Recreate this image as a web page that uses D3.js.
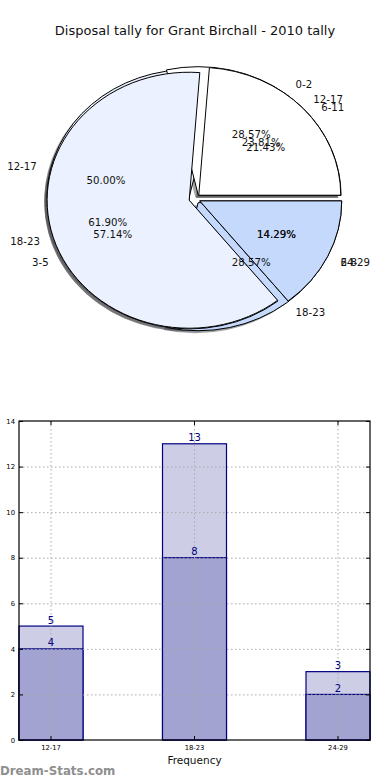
<!DOCTYPE html>
<html>
<head>
<meta charset="utf-8">
<script src="https://cdn.jsdelivr.net/npm/d3@7"></script>
<style>
  body { margin: 0; background: #fff; }
  svg { display: block; font-family: "DejaVu Sans", sans-serif; }
</style>
</head>
<body>
<svg id="chart" width="390" height="780"></svg>
<script>
// pie layers, drawn bottom to top
const pieLabelsA = ["6-11", "12-17", "18-23"];
const pieValuesA = [3, 7, 4];
const pieLabelsB = ["0-2", "3-5", "6-8"];
const pieValuesB = [4, 8, 2];
const pieLabelsC = ["12-17", "18-23", "24-29"];
const pieValuesC = [5, 13, 3];
const pieColors = ["#ffffff", "#ebf1fe", "#c5d9fd"];

// bar chart
const categories = ["12-17", "18-23", "24-29"];
const totals = [5, 13, 3];
const overlay = [4, 8, 2];
const yTicks = [0, 2, 4, 6, 8, 10, 12, 14];

const svg = d3.select("#chart");

svg.append("text")
    .attr("x", 195).attr("y", 30)
    .attr("text-anchor", "middle")
    .attr("dominant-baseline", "central")
    .attr("font-size", 13)
    .attr("fill", "#111")
    .text("Disposal tally for Grant Birchall - 2010 tally");

// ---- pie ----
const cx = 194.6, cy = 198.7, rx = 142, ry = 128;
const explode = 0.04;
const px = d3.scaleLinear().domain([-1, 1]).range([cx - rx, cx + rx]);
const py = d3.scaleLinear().domain([-1, 1]).range([cy + ry, cy - ry]);

const pieGen = d3.pie().sort(null).startAngle(0).endAngle(2 * Math.PI);
// matplotlib angles run counter-clockwise from east; d3 arcs clockwise from north
const arc = d3.arc().innerRadius(0).outerRadius(1)
    .startAngle(d => Math.PI / 2 - d.endAngle)
    .endAngle(d => Math.PI / 2 - d.startAngle);

const layers = [
    { labels: pieLabelsA, values: pieValuesA },
    { labels: pieLabelsB, values: pieValuesB },
    { labels: pieLabelsC, values: pieValuesC }
];

const pieG = svg.append("g")
    .attr("transform", `translate(${cx},${cy}) scale(${rx},${ry})`);
const shadowG = pieG.append("g");
const wedgeG = pieG.append("g");

layers.forEach(layer => {
    const arcs = pieGen(layer.values);
    arcs.forEach((d, i) => {
        const m = (d.startAngle + d.endAngle) / 2;
        const ox = explode * Math.cos(m), oy = -explode * Math.sin(m);
        const c = d3.rgb(pieColors[i]);
        shadowG.append("path")
            .attr("d", arc(d))
            .attr("transform", `translate(${ox - 0.02},${oy + 0.02})`)
            .attr("fill", `rgb(${c.r * 0.3},${c.g * 0.3},${c.b * 0.3})`)
            .attr("fill-opacity", 0.5);
        wedgeG.append("path")
            .attr("d", arc(d))
            .attr("transform", `translate(${ox},${oy})`)
            .attr("fill", pieColors[i])
            .attr("stroke", "#000")
            .attr("stroke-width", 1)
            .attr("vector-effect", "non-scaling-stroke");
    });
});

const textG = svg.append("g").attr("font-size", 10.2).attr("fill", "#111");
layers.forEach(layer => {
    const total = d3.sum(layer.values);
    pieGen(layer.values).forEach((d, i) => {
        const m = (d.startAngle + d.endAngle) / 2;
        const c = Math.cos(m), s = Math.sin(m);
        textG.append("text")
            .attr("x", px((explode + 1.1) * c))
            .attr("y", py((explode + 1.1) * s))
            .attr("text-anchor", c > 0 ? "start" : "end")
            .attr("dominant-baseline", "central")
            .text(layer.labels[i]);
        textG.append("text")
            .attr("x", px((explode + 0.6) * c))
            .attr("y", py((explode + 0.6) * s))
            .attr("text-anchor", "middle")
            .attr("dominant-baseline", "central")
            .text((layer.values[i] / total * 100).toFixed(2) + "%");
    });
});

// ---- bars ----
const plotLeft = 19, plotRight = 370, plotTop = 421, plotBottom = 740;
const x = d3.scaleBand().domain(categories).range([plotLeft, plotRight])
    .paddingInner(0.554).paddingOuter(0);
const y = d3.scaleLinear().domain([0, 14]).range([plotBottom, plotTop]);

const barG = svg.append("g");
barG.selectAll(".total").data(categories).enter().append("rect")
    .attr("x", d => x(d))
    .attr("y", (d, i) => y(totals[i]))
    .attr("width", x.bandwidth())
    .attr("height", (d, i) => y(0) - y(totals[i]))
    .attr("fill", "#cdcde6")
    .attr("stroke", "#000080")
    .attr("stroke-width", 1.2);
barG.selectAll(".over").data(categories).enter().append("rect")
    .attr("x", d => x(d))
    .attr("y", (d, i) => y(overlay[i]))
    .attr("width", x.bandwidth())
    .attr("height", (d, i) => y(0) - y(overlay[i]))
    .attr("fill", "#a3a3d1")
    .attr("stroke", "#000080")
    .attr("stroke-width", 1.2);

// dotted grid over bars
const gridG = svg.append("g")
    .attr("stroke", "#aaa").attr("stroke-width", 1).attr("stroke-dasharray", "1.5,2.5");
gridG.selectAll(".gy").data(yTicks.slice(1, -1)).enter().append("line")
    .attr("x1", plotLeft).attr("x2", plotRight)
    .attr("y1", d => y(d) + 0.5).attr("y2", d => y(d) + 0.5);
gridG.selectAll(".gx").data(categories).enter().append("line")
    .attr("x1", d => x(d) + x.bandwidth() / 2).attr("x2", d => x(d) + x.bandwidth() / 2)
    .attr("y1", plotTop).attr("y2", plotBottom);

const valG = svg.append("g")
    .attr("font-size", 10).attr("fill", "#000080").attr("text-anchor", "middle");
[totals, overlay].forEach(series => {
    valG.selectAll(null).data(categories).enter().append("text")
        .attr("x", d => x(d) + x.bandwidth() / 2)
        .attr("y", (d, i) => y(series[i]) - 2.5)
        .text((d, i) => series[i]);
});

// axes with inward ticks
svg.append("g").attr("transform", `translate(${plotLeft},0)`)
    .call(d3.axisLeft(y).tickValues(yTicks).tickSize(-4).tickPadding(4));
svg.append("g").attr("transform", `translate(0,${plotBottom})`)
    .call(d3.axisBottom(x).tickSize(-4).tickPadding(5));
svg.append("g").attr("transform", `translate(${plotRight},0)`)
    .call(d3.axisRight(y).tickValues(yTicks).tickSize(-4).tickFormat(""));
svg.append("g").attr("transform", `translate(0,${plotTop})`)
    .call(d3.axisTop(x).tickSize(-4).tickFormat(""));
svg.selectAll(".domain").remove();
svg.selectAll(".tick text")
    .attr("font-family", "DejaVu Sans").attr("font-size", 6.8).attr("fill", "#000");

svg.append("rect")
    .attr("x", plotLeft).attr("y", plotTop)
    .attr("width", plotRight - plotLeft).attr("height", plotBottom - plotTop)
    .attr("fill", "none").attr("stroke", "#000").attr("stroke-width", 1.2);

svg.append("text")
    .attr("x", (plotLeft + plotRight) / 2).attr("y", 764)
    .attr("text-anchor", "middle")
    .attr("font-size", 10.5).attr("fill", "#111")
    .text("Frequency");

svg.append("text")
    .attr("x", 0).attr("y", 775)
    .attr("font-size", 11.8).attr("font-weight", 600).attr("fill", "#8f8f8f")
    .text("Dream-Stats.com");
</script>
</body>
</html>
